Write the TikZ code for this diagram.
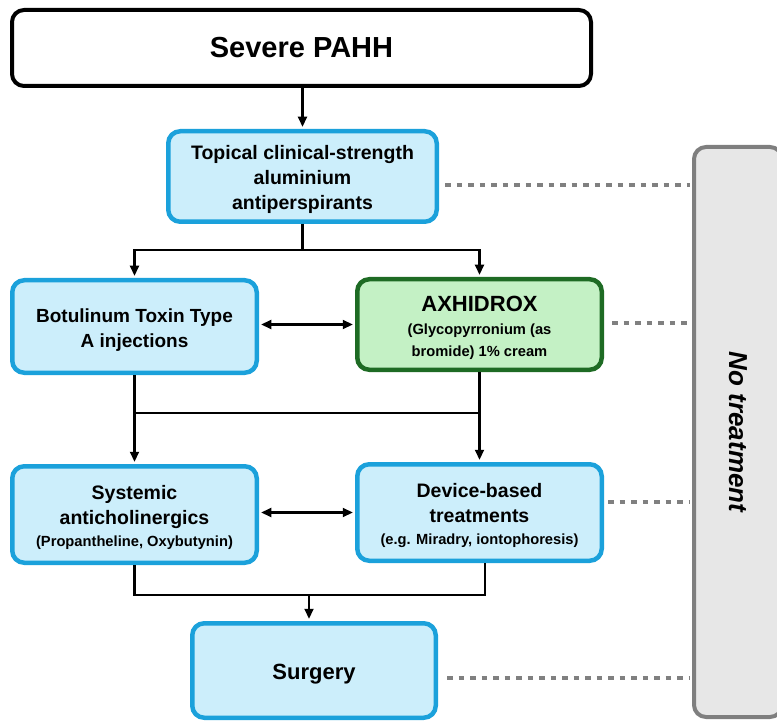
\documentclass[tikz,border=0pt]{standalone}
\usepackage{fontspec}
\setmainfont{Liberation Sans}
\usetikzlibrary{arrows.meta}
\definecolor{bluebd}{HTML}{1BA1DB}
\definecolor{bluefill}{HTML}{CCEEFB}
\definecolor{greenbd}{HTML}{1E6B24}
\definecolor{greenfill}{HTML}{C4F1C5}
\definecolor{graybd}{HTML}{7F7F7F}
\definecolor{grayfill}{HTML}{E7E7E7}
\definecolor{dotgray}{HTML}{808080}
\newcommand{\fsz}[2]{\fontsize{#1}{#2}\selectfont}
\begin{document}
\begin{tikzpicture}[x=1pt,y=-1pt,
  box/.style={rounded corners=12pt, line width=4.5pt, align=center, inner sep=0pt},
  bluebox/.style={box, draw=bluebd, fill=bluefill},
  greenbox/.style={box, draw=greenbd, fill=greenfill},
  flow/.style={line width=2.2pt, draw=black},
  arr/.style={flow, -{Triangle[length=10pt,width=9pt]}, shorten >=2.25pt},
  darr/.style={flow, {Triangle[length=10pt,width=9pt]}-{Triangle[length=10pt,width=9pt]}, shorten >=2.25pt, shorten <=2.25pt},
  dots/.style={draw=dotgray, line width=4.5pt, dash pattern=on 5.5pt off 6pt}
]
\useasboundingbox (0,0) rectangle (777,722);
\clip (0,0) rectangle (777,722);

\node[box, draw=black, line width=4pt, fill=white, rounded corners=12pt,
      minimum width=579pt, minimum height=76pt, font=\bfseries\fsz{29}{34}] (sev) at (301.5,48) {Severe PAHH};
\node[bluebox, minimum width=268.5pt, minimum height=90.5pt, font=\bfseries\fsz{19.5}{25}] (top) at (302.5,176.5)
  {\rule{0pt}{20pt}Topical clinical-strength\\aluminium\\antiperspirants};
\node[bluebox, minimum width=244.5pt, minimum height=92.5pt, font=\bfseries\fsz{19}{25}] (bot) at (134.5,326.5)
  {\rule{0pt}{20pt}Botulinum Toxin Type\\A injections};
\node[greenbox, minimum width=244.5pt, minimum height=90.5pt, font=\bfseries\fsz{14.7}{22}] (axh) at (479.5,324.5)
  {\fsz{22}{26}\rule{0pt}{22pt}AXHIDROX\\[1pt](Glycopyrronium (as\\bromide) 1\% cream};
\node[bluebox, minimum width=244.5pt, minimum height=96.5pt, font=\bfseries\fsz{19.5}{25}] (sys) at (134.5,514.5)
  {\rule{0pt}{20pt}Systemic\\anticholinergics\\[-3pt]\fsz{14.7}{20}(Propantheline, Oxybutynin)};
\node[bluebox, minimum width=244.5pt, minimum height=96.5pt, font=\bfseries\fsz{19.5}{25}] (dev) at (479.5,512.5)
  {\rule{0pt}{20pt}Device-based\\treatments\\[-3pt]\fsz{14.7}{20}(e.g. Miradry, iontophoresis)};
\node[bluebox, minimum width=243.5pt, minimum height=94.5pt, font=\bfseries\fsz{22}{26}] (sur) at (314,670.5)
  {\rule{0pt}{22pt}Surgery};
\node[box, draw=graybd, fill=grayfill, line width=4pt, minimum width=88pt, minimum height=570pt,
      font=\bfseries\itshape\fsz{26}{30}] (no) at (738,432)
  {\rotatebox{-90}{No treatment}};

\coordinate (ya) at (0,250);
\coordinate (yb) at (0,413);
\coordinate (yc) at (0,595);

\draw[flow] (top.south) -- (top.south |- ya);
\draw[arr] (top.south |- ya) -| (bot.north);
\draw[arr] (top.south |- ya) -| (axh.north);
\draw[arr] (sev.south -| top.north) -- (top.north);

\draw[darr] (bot.east |- axh.west) -- (axh.west);

\draw[arr] (bot.south) -- (sys.north);
\draw[arr] (axh.south) -- (dev.north);
\draw[flow] (bot.south |- yb) -- (axh.south |- yb);

\draw[darr] (sys.east |- dev.west) -- (dev.west);

\coordinate (dvs) at ([xshift=5.5pt]dev.south);
\coordinate (sn) at ([xshift=-5pt]sur.north);
\draw[flow] (sys.south) |- (dvs |- yc) -- (dvs);
\draw[arr] (sn |- yc) -- (sn);

\coordinate (d1) at ([yshift=-8.5pt]top.east);
\coordinate (d2) at ([yshift=1.5pt]axh.east);
\coordinate (d3) at ([yshift=10.5pt]dev.east);
\coordinate (d4) at ([yshift=-7.5pt]sur.east);
\draw[dots, shorten <=6pt, shorten >=2pt] (d1) -- (d1 -| no.west);
\draw[dots, shorten <=8pt, shorten >=2pt] (d2) -- (d2 -| no.west);
\draw[dots, shorten <=4pt, shorten >=2pt] (d3) -- (d3 -| no.west);
\draw[dots, shorten <=9pt, shorten >=2pt] (d4) -- (d4 -| no.west);
\end{tikzpicture}
\end{document}
